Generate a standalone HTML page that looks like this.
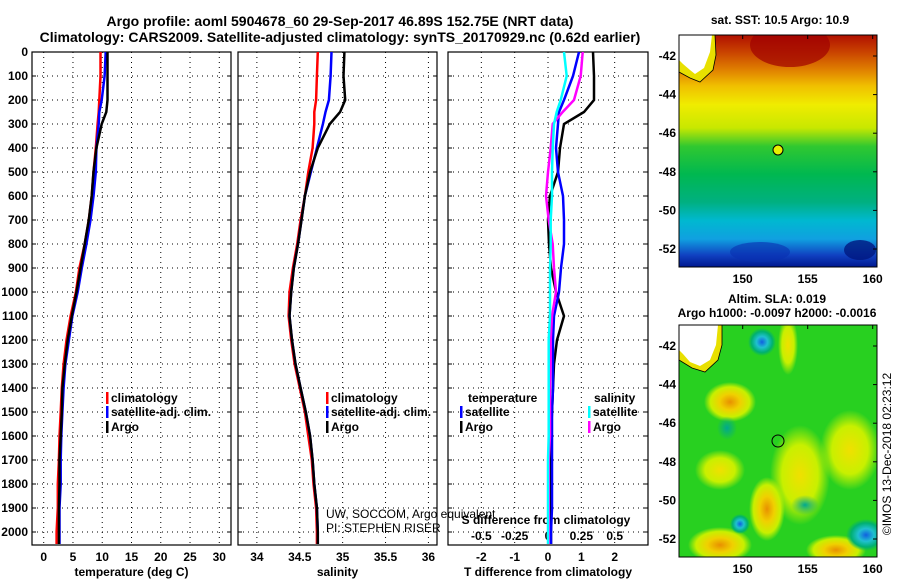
<!DOCTYPE html>
<html><head><meta charset="utf-8"><style>
body{margin:0;background:#fff;}
svg text{font-family:"Liberation Sans",sans-serif;}
.b{font-weight:bold;}
</style></head><body>
<svg id="c" width="900" height="580" xmlns="http://www.w3.org/2000/svg">
<defs>
<linearGradient id="sst" x1="0" y1="0" x2="0" y2="1">
<stop offset="0" stop-color="#b01000"/><stop offset="0.07" stop-color="#c84000"/><stop offset="0.15" stop-color="#e08000"/>
<stop offset="0.22" stop-color="#f0c000"/><stop offset="0.3" stop-color="#f0ec00"/><stop offset="0.4" stop-color="#c8e800"/>
<stop offset="0.48" stop-color="#30c830"/><stop offset="0.6" stop-color="#00b850"/><stop offset="0.72" stop-color="#00b080"/>
<stop offset="0.8" stop-color="#00b8d0"/><stop offset="0.88" stop-color="#10a0e0"/><stop offset="0.95" stop-color="#1040c0"/><stop offset="1" stop-color="#001890"/>
</linearGradient>
<radialGradient id="yb"><stop offset="0" stop-color="#e89000"/><stop offset="0.4" stop-color="#f0d000"/><stop offset="0.75" stop-color="#c8f000"/><stop offset="1" stop-color="#c8f000" stop-opacity="0"/></radialGradient>
<radialGradient id="yl"><stop offset="0" stop-color="#f0e000"/><stop offset="0.6" stop-color="#c8f000"/><stop offset="1" stop-color="#c8f000" stop-opacity="0"/></radialGradient>
<radialGradient id="cb"><stop offset="0" stop-color="#1060e0"/><stop offset="0.4" stop-color="#20c0d0"/><stop offset="0.75" stop-color="#00b070"/><stop offset="1" stop-color="#00b070" stop-opacity="0"/></radialGradient>
<radialGradient id="tb"><stop offset="0" stop-color="#00a890"/><stop offset="1" stop-color="#00a890" stop-opacity="0"/></radialGradient>
<clipPath id="m1"><rect x="679" y="35" width="198" height="232"/></clipPath>
<clipPath id="m2"><rect x="679" y="325" width="198" height="232"/></clipPath>
</defs>
<text class="b" x="340" y="26" font-size="14" text-anchor="middle">Argo profile: aoml 5904678_60 29-Sep-2017 46.89S 152.75E (NRT data)</text>
<text class="b" x="340" y="42" font-size="14" text-anchor="middle">Climatology: CARS2009. Satellite-adjusted climatology: synTS_20170929.nc (0.62d earlier)</text>
<g id="maps">
<text class="b" x="780" y="24" font-size="12" text-anchor="middle">sat. SST: 10.5 Argo: 10.9</text>
<g clip-path="url(#m1)">
<rect x="679" y="35" width="198" height="232" fill="url(#sst)"/>
<ellipse cx="790" cy="45" rx="40" ry="22" fill="#a00000" opacity="0.7"/>
<ellipse cx="860" cy="250" rx="16" ry="10" fill="#001880" opacity="0.8"/>
<ellipse cx="760" cy="252" rx="30" ry="10" fill="#0830b0" opacity="0.6"/>
<path d="M679 35 L715 35 L716 55 L713 70 L700 82 L690 78 L679 72 Z" fill="#e8e000" stroke="#000" stroke-width="0.8"/>
<path d="M679 35 L712 35 L710 52 L704 68 L695 74 L690 70 L683 64 L679 60 Z" fill="#fff"/>
</g>
<rect x="679" y="35" width="198" height="232" fill="none" stroke="#000"/>
<circle cx="778" cy="150" r="5" fill="#e8f000" stroke="#000"/>
<text class="b" x="777" y="303" font-size="12" text-anchor="middle">Altim. SLA: 0.019</text>
<text class="b" x="777" y="317" font-size="12" text-anchor="middle">Argo h1000: -0.0097 h2000: -0.0016</text>
<g clip-path="url(#m2)">
<rect x="679" y="325" width="198" height="232" fill="#28d020"/>
<ellipse cx="730" cy="402" rx="26" ry="20" fill="url(#yb)"/>
<ellipse cx="767" cy="509" rx="18" ry="32" fill="url(#yb)"/>
<ellipse cx="720" cy="545" rx="32" ry="18" fill="url(#yb)"/>
<ellipse cx="836" cy="550" rx="30" ry="15" fill="url(#yb)"/>
<ellipse cx="800" cy="475" rx="30" ry="50" fill="url(#yl)"/>
<ellipse cx="720" cy="470" rx="25" ry="20" fill="url(#yl)"/>
<ellipse cx="850" cy="450" rx="30" ry="40" fill="url(#yl)"/>
<ellipse cx="788" cy="345" rx="10" ry="30" fill="url(#yl)"/>
<ellipse cx="762" cy="342" rx="14" ry="14" fill="url(#cb)"/>
<ellipse cx="866" cy="535" rx="20" ry="16" fill="url(#cb)"/>
<ellipse cx="740" cy="524" rx="10" ry="10" fill="url(#cb)"/>
<ellipse cx="727" cy="428" rx="10" ry="12" fill="url(#tb)"/>
<ellipse cx="805" cy="505" rx="14" ry="10" fill="url(#tb)"/>
<path d="M679 325 L722 325 L722 345 L718 360 L705 372 L692 368 L679 360 Z" fill="#e8e000" stroke="#000" stroke-width="0.8"/>
<path d="M679 325 L718 325 L716 345 L710 360 L700 366 L690 362 L683 354 L679 350 Z" fill="#fff"/>
</g>
<rect x="679" y="325" width="198" height="232" fill="none" stroke="#000"/>
<circle cx="778" cy="441" r="6" fill="none" stroke="#000"/>
<text x="891" y="454" font-size="12" text-anchor="middle" transform="rotate(-90 891 454)">©IMOS 13-Dec-2018 02:23:12</text>
</g>
<g id="plots"></g>
</svg>
<script>
const depths=[0,100,200,250,300,400,500,600,700,800,900,1000,1100,1200,1300,1400,1500,1600,1700,1800,1900,2000,2050];
const climT=[9.7,9.7,9.5,9.4,9.2,8.9,8.5,8.2,7.7,7.0,6.1,5.5,4.6,3.9,3.4,3.1,2.9,2.7,2.6,2.4,2.4,2.2,2.2];
const satT=[10.6,10.4,9.9,9.5,9.4,9.0,8.9,8.5,8.0,7.3,6.5,5.8,4.9,4.3,3.7,3.4,3.2,3.0,2.9,2.9,2.7,2.7,2.7];
const argoT=[10.9,10.9,10.9,10.7,9.9,9.0,8.5,8.2,7.7,7.0,6.3,5.6,4.8,4.1,3.6,3.2,3.1,2.9,2.7,2.7,2.6,2.6,2.6];
const climS=[34.71,34.70,34.69,34.67,34.67,34.65,34.60,34.56,34.51,34.47,34.42,34.38,34.37,34.40,34.44,34.50,34.56,34.60,34.64,34.66,34.69,34.70,34.70];
const satS=[34.87,34.86,34.84,34.80,34.77,34.70,34.63,34.56,34.52,34.48,34.43,34.40,34.38,34.41,34.45,34.51,34.57,34.62,34.65,34.67,34.70,34.71,34.71];
const argoS=[35.02,35.01,35.03,34.97,34.85,34.71,34.62,34.56,34.52,34.48,34.43,34.40,34.38,34.41,34.45,34.51,34.57,34.62,34.65,34.67,34.70,34.71,34.71];
const satTd=[0.93,0.75,0.48,0.33,0.30,0.24,0.30,0.45,0.48,0.48,0.39,0.33,0.18,0.15,0.15,0.15,0.12,0.12,0.12,0.12,0.12,0.09,0.09];
const argoTd=[1.35,1.38,1.38,1.08,0.48,0.36,0.30,0.06,0,0.03,0.09,0.24,0.48,0.27,0.18,0.15,0.12,0.09,0.09,0.09,0.09,0.09,0.09];
const satSd=[0.12,0.14,0.095,0.065,0.045,0.035,0.03,0.03,0.02,0.02,0.015,0.015,0.015,0.005,0.005,0.005,0.005,0.005,0,0,0,0,0];
const argoSd=[0.26,0.245,0.195,0.11,0.035,0.02,0,-0.015,0.005,0.035,0.045,0.06,0.03,0.02,0.02,0.015,0.015,0.015,0.005,0.005,0.005,0.005,0.005];
const depthTicks=[0,100,200,300,400,500,600,700,800,900,1000,1100,1200,1300,1400,1500,1600,1700,1800,1900,2000];
const tTicks=[0,5,10,15,20,25,30];
const sTicks=[34,34.5,35,35.5,36];
const tdTicks=[-2,-1,0,1,2];
const sdTicks=[-0.5,-0.25,0,0.25,0.5];
const sdLabels=['-0.5','-0.25','0','0.25','0.5'];

const NS='http://www.w3.org/2000/svg';
const root=document.getElementById('plots');
const TOP=52,BOT=545;
const y=d=>TOP+d*0.24;
function mk(tag,attrs,parent){const e=document.createElementNS(NS,tag);for(const k in attrs)e.setAttribute(k,attrs[k]);(parent||root).appendChild(e);return e;}
function txt(s,x,yy,size,bold,anchor,parent){const t=mk('text',{x:x,y:yy,'font-size':size,'text-anchor':anchor||'middle'},parent);if(bold)t.setAttribute('class','b');t.textContent=s;return t;}
const panels=[
 {name:'temperature',L:32,R:231,min:-2,max:32,ticks:tTicks,labels:tTicks.map(String),title:'temperature (deg C)'},
 {name:'salinity',L:238,R:437,min:33.78,max:36.1,ticks:sTicks,labels:sTicks.map(String),title:'salinity'},
 {name:'difference',L:448,R:648,min:-3,max:3,ticks:tdTicks,labels:tdTicks.map(String),title:'T difference from climatology'}
];
panels.forEach(p=>{p.x=v=>p.L+(v-p.min)/(p.max-p.min)*(p.R-p.L);});
panels.forEach((p,i)=>{
 const g=mk('g',{});
 
 
 depthTicks.forEach(d=>{
  const l=mk('line',{x1:p.L,x2:p.R,y1:y(d),y2:y(d),stroke:'#000','stroke-width':1,'stroke-dasharray':'1,4'},g);
  
  
  mk('line',{x1:p.L,x2:p.L+4,y1:y(d),y2:y(d),stroke:'#000'},g);
  mk('line',{x1:p.R-4,x2:p.R,y1:y(d),y2:y(d),stroke:'#000'},g);
 });
 p.ticks.forEach((t,j)=>{
  const X=p.x(t);
  const l=mk('line',{x1:X,x2:X,y1:TOP,y2:BOT,stroke:'#000','stroke-width':1,'stroke-dasharray':'1,4'},g);
  
  
  const lb=txt(p.labels[j],X,561,12,true,'middle',g);
  
  
 });
 const at=txt(p.title,(p.L+p.R)/2,576,12,true,'middle',g);
 
 
 mk('rect',{x:p.L,y:TOP,width:p.R-p.L,height:BOT-TOP,fill:'none',stroke:'#000','stroke-width':1.2},g);
});
depthTicks.forEach(d=>{
 const t=txt(String(d),28,y(d)+4,12,true,'end');
 
 
});
const P3=panels[2];
const sx=v=>P3.x(0)+v*(P3.x(1)-P3.x(0))*4;
const sdt=txt('S difference from climatology',546,524,12,true,'middle');


sdTicks.forEach((v,j)=>{
 const t=txt(sdLabels[j],sx(v),540,12,true,'middle');
 
 
});
function line(vals,xf,color,name,w){
 const pts=vals.map((v,i)=>xf(v).toFixed(1)+','+y(depths[i]).toFixed(1)).join(' ');
 const pl=mk('polyline',{points:pts,fill:'none',stroke:color,'stroke-width':w||2.5,'stroke-linejoin':'miter'});
 
 
}
line(climT,panels[0].x,'#ff0000','temperature-climatology-line');
line(satT,panels[0].x,'#0000ff','temperature-satellite-line');
line(argoT,panels[0].x,'#000','temperature-argo-line');
line(climS,panels[1].x,'#ff0000','salinity-climatology-line');
line(satS,panels[1].x,'#0000ff','salinity-satellite-line');
line(argoS,panels[1].x,'#000','salinity-argo-line');
line(argoTd,P3.x,'#000','t-diff-argo-line');
line(satTd,P3.x,'#0000ff','t-diff-satellite-line');
line(argoSd,sx,'#ff00ff','s-diff-argo-line');
line(satSd,sx,'#00ffff','s-diff-satellite-line');
function legend(x,yy,color,label,name){
 const g=mk('g',{});
 
 
 mk('rect',{x:x,y:yy-10,width:2.5,height:12,fill:color},g);
 txt(label,x+5,yy,12,true,'start',g);
}
legend(106,402,'#ff0000','climatology','legend-climatology');
legend(106,416,'#0000ff','satellite-adj. clim.','legend-satellite-adj');
legend(106,431,'#000','Argo','legend-argo');
legend(326,402,'#ff0000','climatology','legend-s-climatology');
legend(326,416,'#0000ff','satellite-adj. clim.','legend-s-satellite-adj');
legend(326,431,'#000','Argo','legend-s-argo');
const lt=txt('temperature',468,402,12,true,'start');


legend(460,416,'#0000ff','satellite','legend-t-satellite');
legend(460,431,'#000','Argo','legend-t-argo');
const ls=txt('salinity',594,402,12,true,'start');


legend(588,416,'#00ffff','satellite','legend-s-diff-satellite');
legend(588,431,'#ff00ff','Argo','legend-s-diff-argo');
const c1=txt('UW, SOCCOM, Argo equivalent',326,518,12,false,'start');


const c2=txt('PI: STEPHEN RISER',326,532,12,false,'start');


function mapAxes(top,prefix){
 const lx=v=>679+(v-145.1)*13, ly=v=>top+21+(-42-v)*19.3;
 [-42,-44,-46,-48,-50,-52].forEach(v=>{
  const t=txt(String(v),676,ly(v)+4,12,true,'end');
  
  
  mk('line',{x1:877,x2:873,y1:ly(v),y2:ly(v),stroke:'#000'});
 });
 [150,155,160].forEach(v=>{
  const t=txt(String(v),lx(v),top+248,12,true,'middle');
  
  
  mk('line',{x1:lx(v),x2:lx(v),y1:top,y2:top+4,stroke:'#000'});
 });
}
mapAxes(35,'sst-map');
mapAxes(325,'sla-map');
</script>
</body></html>
